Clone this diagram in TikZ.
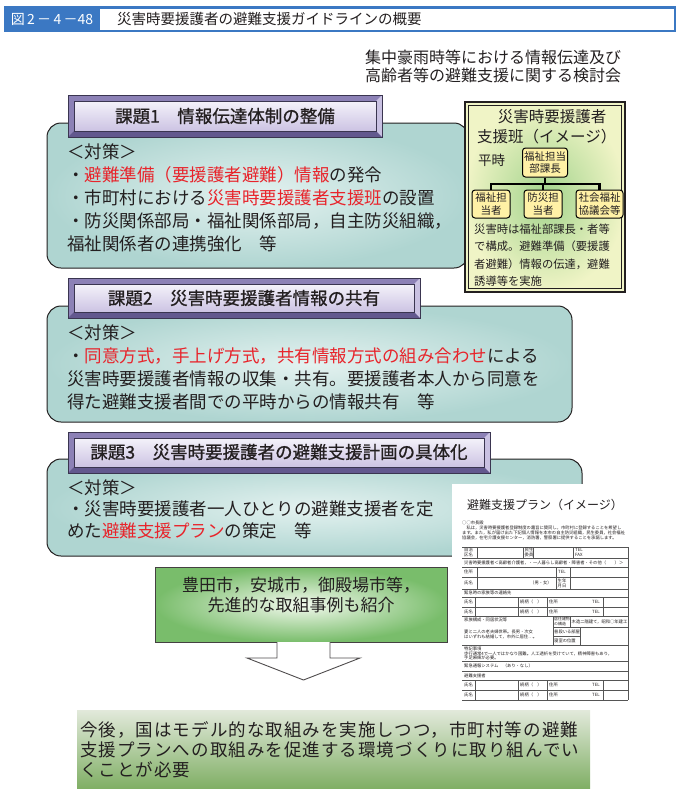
\documentclass[tikz,border=0pt]{standalone}
\usepackage{fontspec}
\setmainfont{Noto Sans CJK JP}
\newfontfamily\jpwide[LetterSpace=6]{Noto Sans CJK JP}
\newfontfamily\jpmid[FakeBold=0.9]{Noto Sans CJK JP}
\usetikzlibrary{positioning}

\definecolor{hdblue}{HTML}{3B78C3}
\definecolor{ink}{HTML}{231F20}
\definecolor{alert}{HTML}{E8242B}
\definecolor{tealin}{HTML}{E4F2F0}
\definecolor{tealout}{HTML}{AFD5D1}
\definecolor{tabrim}{HTML}{8C81B6}
\definecolor{tablit}{HTML}{C9C1E2}
\definecolor{tabdark}{HTML}{62588E}
\definecolor{tabtop}{HTML}{F4F2FA}
\definecolor{tabbot}{HTML}{CCC3E3}
\definecolor{tabline}{HTML}{3A3550}
\definecolor{grpin}{HTML}{A2D38C}
\definecolor{grpout}{HTML}{F0F4C6}
\definecolor{memo}{HTML}{FFF1A6}
\definecolor{casein}{HTML}{F3F9EE}
\definecolor{caseout}{HTML}{79BD6B}
\definecolor{goaltop}{HTML}{E2E9DB}
\definecolor{goalbot}{HTML}{80AF65}
\definecolor{formline}{HTML}{555555}

\newcommand{\hot}[1]{\textcolor{alert}{#1}}
\newcommand{\fsz}[2]{\fontsize{#1}{#2}\selectfont}

\begin{document}
\begin{tikzpicture}[x=1pt,y=-1pt,
  bodyline/.style={anchor=west,inner sep=0pt,text=ink,font=\fsz{17.5}{20}},
  tealbox/.style={draw=ink,line width=1pt,rounded corners=14pt,inner color=tealin,outer color=tealout},
  tabrimfill/.style={fill=tabrim},
  tabface/.style={top color=tabtop,bottom color=tabbot,draw=tabline,line width=0.8pt},
  tabtext/.style={inner sep=0pt,text=ink,font=\jpmid\fsz{17.5}{20}},
  memobox/.style={draw=black,line width=1pt,fill=memo,rounded corners=3pt,align=center,
    inner sep=1.5pt,font=\fsz{10.5}{12.5},text=ink,minimum width=38pt,minimum height=28pt},
  tree/.style={line width=2.4pt,black},
  memotext/.style={anchor=west,inner sep=0pt,text=ink,font=\fsz{11.3}{13}},
  formtext/.style={anchor=west,inner sep=0pt,text=ink,font=\fsz{4.3}{5},align=left},
  formrule/.style={formline,line width=0.5pt},
  casebox/.style={draw=ink!85,line width=1pt,inner color=casein,outer color=caseout,
    minimum width=292pt,minimum height=75pt},
  arrowline/.style={draw=ink!80,fill=white,line width=0.9pt,line join=miter},
  goalline/.style={anchor=west,inner sep=0pt,text=ink,font=\jpwide\fsz{17.5}{20}}]
\useasboundingbox (0,0) rectangle (680,796);

% header
\fill[hdblue] (4,6) rectangle (676,32);
\fill[white] (100,8.5) rectangle (673.5,29.5);
\node[text=white,inner sep=0pt,font=\fsz{14}{16}] (fignum) at (52,19) {図\,2\,－\,4\,－48};
\node[anchor=west,inner sep=0pt,text=ink,font=\fsz{14.5}{16}] (title) at (117,19) {災害時要援護者の避難支援ガイドラインの概要};
\node[anchor=west,inner sep=0pt,text=ink,font=\fsz{16}{18}] (sub1) at (365,57) {集中豪雨時等における情報伝達及び};
\node[anchor=west,inner sep=0pt,text=ink,font=\fsz{16}{18}] (sub2) at (365,75) {高齢者等の避難支援に関する検討会};

% task 1
\path[tealbox] (47,123) rectangle (468,268);
\node[bodyline] (a0) at (67,152) {＜対策＞};
\node[bodyline] (a1) at (67,175) {・\hot{避難準備（要援護者避難）情報}の発令};
\node[bodyline] (a2) at (67,198) {・市町村における\hot{災害時要援護者支援班}の設置};
\node[bodyline] (a3) at (67,221) {・防災関係部局・福祉関係部局，自主防災組織，};
\node[bodyline] (a4) at (67,244) {福祉関係者の連携強化　等};

% support group
\fill[inner color=grpin,outer color=grpout] (465,102) rectangle (625,292);
\draw[ink,line width=1.2pt] (465,102) rectangle (625,292);
\draw[ink,line width=0.6pt] (468.5,105.5) rectangle (621.5,288.5);
\node[inner sep=0pt,text=ink,font=\fsz{15.5}{18}] (grp1) at (552,117) {災害時要援護者};
\node[anchor=west,inner sep=0pt,text=ink,font=\fsz{15.5}{18}] (grp2) at (477,137) {支援班（イメージ）};
\node[anchor=west,inner sep=0pt,text=ink,font=\fsz{13.5}{15}] (heiji) at (478,160) {平時};
\coordinate (hub) at (545,184);
\node[memobox,minimum width=44pt,minimum height=29pt] (head) at (545,162.5) {福祉担当\\部課長};
\node[memobox] (w2) at (543,204) {防災担\\当者};
\node[memobox,left=13pt of w2] (w1) {福祉担\\当者};
\node[memobox,right=13pt of w2,minimum width=47pt] (w3) {社会福祉\\協議会等};
\draw[tree] (head) -- (hub);
\draw[tree] (w1.north) |- (hub) -| (w3.north);
\draw[tree] (hub -| w2.north) -- (w2.north);
\node[memotext] (m1) at (474,229) {災害時は福祉部課長・者等};
\node[memotext] (m2) at (474,246.5) {で構成。避難準備（要援護};
\node[memotext] (m3) at (474,264) {者避難）情報の伝達，避難};
\node[memotext] (m4) at (474,281) {誘導等を実施};

% tab 1
\fill[tabrimfill] (68,95) rectangle (382,137);
\fill[tablit] (382,95) -- (376,101) -- (376,131) -- (382,137) -- cycle;
\fill[tabdark] (68,137) -- (74,131) -- (376,131) -- (382,137) -- cycle;
\draw[tabline,line width=0.9pt] (68,95) rectangle (382,137);
\path[tabface] (74,101) rectangle (376,131);
\node[tabtext] (k1) at (225,116) {課題1　情報伝達体制の整備};

% task 2
\path[tealbox] (47,306) rectangle (572,422);
\fill[tabrimfill] (68,278) rectangle (420,318);
\fill[tablit] (420,278) -- (414,284) -- (414,312) -- (420,318) -- cycle;
\fill[tabdark] (68,318) -- (74,312) -- (414,312) -- (420,318) -- cycle;
\draw[tabline,line width=0.9pt] (68,278) rectangle (420,318);
\path[tabface] (74,284) rectangle (414,312);
\node[tabtext] (k2) at (244,298) {課題2　災害時要援護者情報の共有};
\node[bodyline] (b0) at (67,333) {＜対策＞};
\node[bodyline] (b1) at (67,356) {・\hot{同意方式，手上げ方式，共有情報方式の組み合わせ}による};
\node[bodyline] (b2) at (67,379) {災害時要援護者情報の収集・共有。要援護者本人から同意を};
\node[bodyline] (b3) at (67,402) {得た避難支援者間での平時からの情報共有　等};

% task 3
\path[tealbox] (47,459) rectangle (582,556);
\fill[tabrimfill] (68,432) rectangle (490,473);
\fill[tablit] (490,432) -- (484,438) -- (484,467) -- (490,473) -- cycle;
\fill[tabdark] (68,473) -- (74,467) -- (484,467) -- (490,473) -- cycle;
\draw[tabline,line width=0.9pt] (68,432) rectangle (490,473);
\path[tabface] (74,438) rectangle (484,467);
\node[tabtext] (k3) at (279,452) {課題3　災害時要援護者の避難支援計画の具体化};
\node[bodyline] (c0) at (67,488) {＜対策＞};
\node[bodyline] (c1) at (67,509) {・災害時要援護者一人ひとりの避難支援者を定};
\node[bodyline] (c2) at (67,531) {めた\hot{避難支援プラン}の策定　等};

% plan sheet
\fill[white] (452,484) rectangle (636,708);
\node[inner sep=0pt,text=ink,font=\fsz{12}{14}] (plan) at (545,505) {避難支援プラン（イメージ）};
\node[formtext] (p0) at (462,523) {○○市長殿};
\node[formtext] (p1) at (462,528) {　私は，災害時要援護者登録制度の趣旨に賛同し，市町村に登録することを希望し};
\node[formtext] (p2) at (462,533) {ます。また，私が届け出た下記個人情報を本市の自主防災組織，民生委員，社会福祉};
\node[formtext] (p3) at (462,538) {協議会，在宅介護支援センター，消防署，警察署に提供することを承諾します。};
\draw[formrule] (462,547) -- (628,547) (462,558) -- (628,558) (462,567) -- (628,567)
  (462,577) -- (628,577) (462,589) -- (628,589) (462,597) -- (628,597)
  (462,607) -- (628,607) (462,616) -- (628,616) (462,645) -- (628,645)
  (462,661) -- (628,661) (462,671) -- (628,671) (462,680) -- (628,680)
  (462,690) -- (628,690) (462,700) -- (628,700) (628,547) -- (628,700);
\draw[formrule] (477,547) -- (477,558) (523,547) -- (523,558) (533,547) -- (533,558) (573,547) -- (573,558)
  (477,567) -- (477,589) (556,567) -- (556,589) (570,567) -- (570,589)
  (475,597) -- (475,616) (518,597) -- (518,616) (547,597) -- (547,616) (603,597) -- (603,616)
  (553,616) -- (553,645) (570,616) -- (570,627) (553,627) -- (628,627) (580,627) -- (580,645) (553,636) -- (580,636)
  (475,680) -- (475,700) (518,680) -- (518,700) (547,680) -- (547,700) (603,680) -- (603,700);
\node[formtext] (r1a) at (464,552.5) {自治\\区名};
\node[formtext] (r1b) at (524.5,552.5) {民生\\委員};
\node[formtext] (r1c) at (575,552.5) {TEL\\FAX};
\node[formtext] (r2) at (464,562.5) {災害時要援護者＜高齢者介護者，・一人暮らし高齢者・障害者・その他（　　）＞};
\node[formtext] (r3a) at (464,572) {住所};
\node[formtext] (r3b) at (558,572) {TEL};
\node[formtext] (r4a) at (464,583) {氏名};
\node[formtext] (r4b) at (530,583) {（男・女）};
\node[formtext] (r4c) at (557.5,583) {生年\\月日};
\node[formtext] (r5) at (464,593) {緊急時の家族等の連絡先};
\node[formtext] (r6a) at (464,602) {氏名};
\node[formtext] (r6b) at (520,602) {続柄（　）};
\node[formtext] (r6c) at (549,602) {住所};
\node[formtext] (r6d) at (592,602) {TEL};
\node[formtext] (r7a) at (464,611.5) {氏名};
\node[formtext] (r7b) at (520,611.5) {続柄（　）};
\node[formtext] (r7c) at (549,611.5) {住所};
\node[formtext] (r7d) at (592,611.5) {TEL};
\node[formtext] (r8a) at (464,620) {家族構成・同居状況等};
\node[formtext,font=\fsz{3.9}{4.6}] (r8b) at (554,621.5) {居住建物\\の構造};
\node[formtext] (r8c) at (571.5,621.5) {木造二階建て，昭和○年建工};
\node[formtext] (r9a) at (464,632) {妻と二人の老夫婦世帯。長男・次女};
\node[formtext] (r9b) at (464,637) {はいずれも結婚して，市外に居住…。};
\node[formtext] (r9c) at (554,631.5) {普段いる部屋};
\node[formtext] (r9d) at (554,640.5) {寝室の位置};
\node[formtext] (r10a) at (464,649) {特記事項};
\node[formtext] (r10b) at (464,653.5) {歩行通常4で一人ではかなり困難。人工透析を受けていて，精神障害もあり，};
\node[formtext] (r10c) at (464,658) {手足麻痺が必要。};
\node[formtext] (r11) at (464,666) {緊急通報システム　（あり・なし）};
\node[formtext] (r12) at (464,675.5) {避難支援者};
\node[formtext] (r13a) at (464,685) {氏名};
\node[formtext] (r13b) at (520,685) {続柄（　）};
\node[formtext] (r13c) at (549,685) {住所};
\node[formtext] (r13d) at (592,685) {TEL};
\node[formtext] (r14a) at (464,695) {氏名};
\node[formtext] (r14b) at (520,695) {続柄（　）};
\node[formtext] (r14c) at (549,695) {住所};
\node[formtext] (r14d) at (592,695) {TEL};

% examples and arrow
\node[casebox] (cases) at (301,604.5) {};
\node[inner sep=0pt,text=ink,align=center,font=\fsz{17}{20}] (casemsg) at (301,595) {豊田市，安城市，御殿場市等，\\先進的な取組事例も紹介};
\path[arrowline] (277,642) -- (277,658) -- (247,658) -- (303.5,680) -- (360,658) -- (330,658) -- (330,642);

% conclusion
\fill[top color=goaltop,bottom color=goalbot] (77,710) rectangle (590,788);
\node[goalline] (g1) at (80,730) {今後，国はモデル的な取組みを実施しつつ，市町村等の避難};
\node[goalline] (g2) at (80,750) {支援プランへの取組みを促進する環境づくりに取り組んでい};
\node[goalline] (g3) at (80,770) {くことが必要};
\end{tikzpicture}
\end{document}
